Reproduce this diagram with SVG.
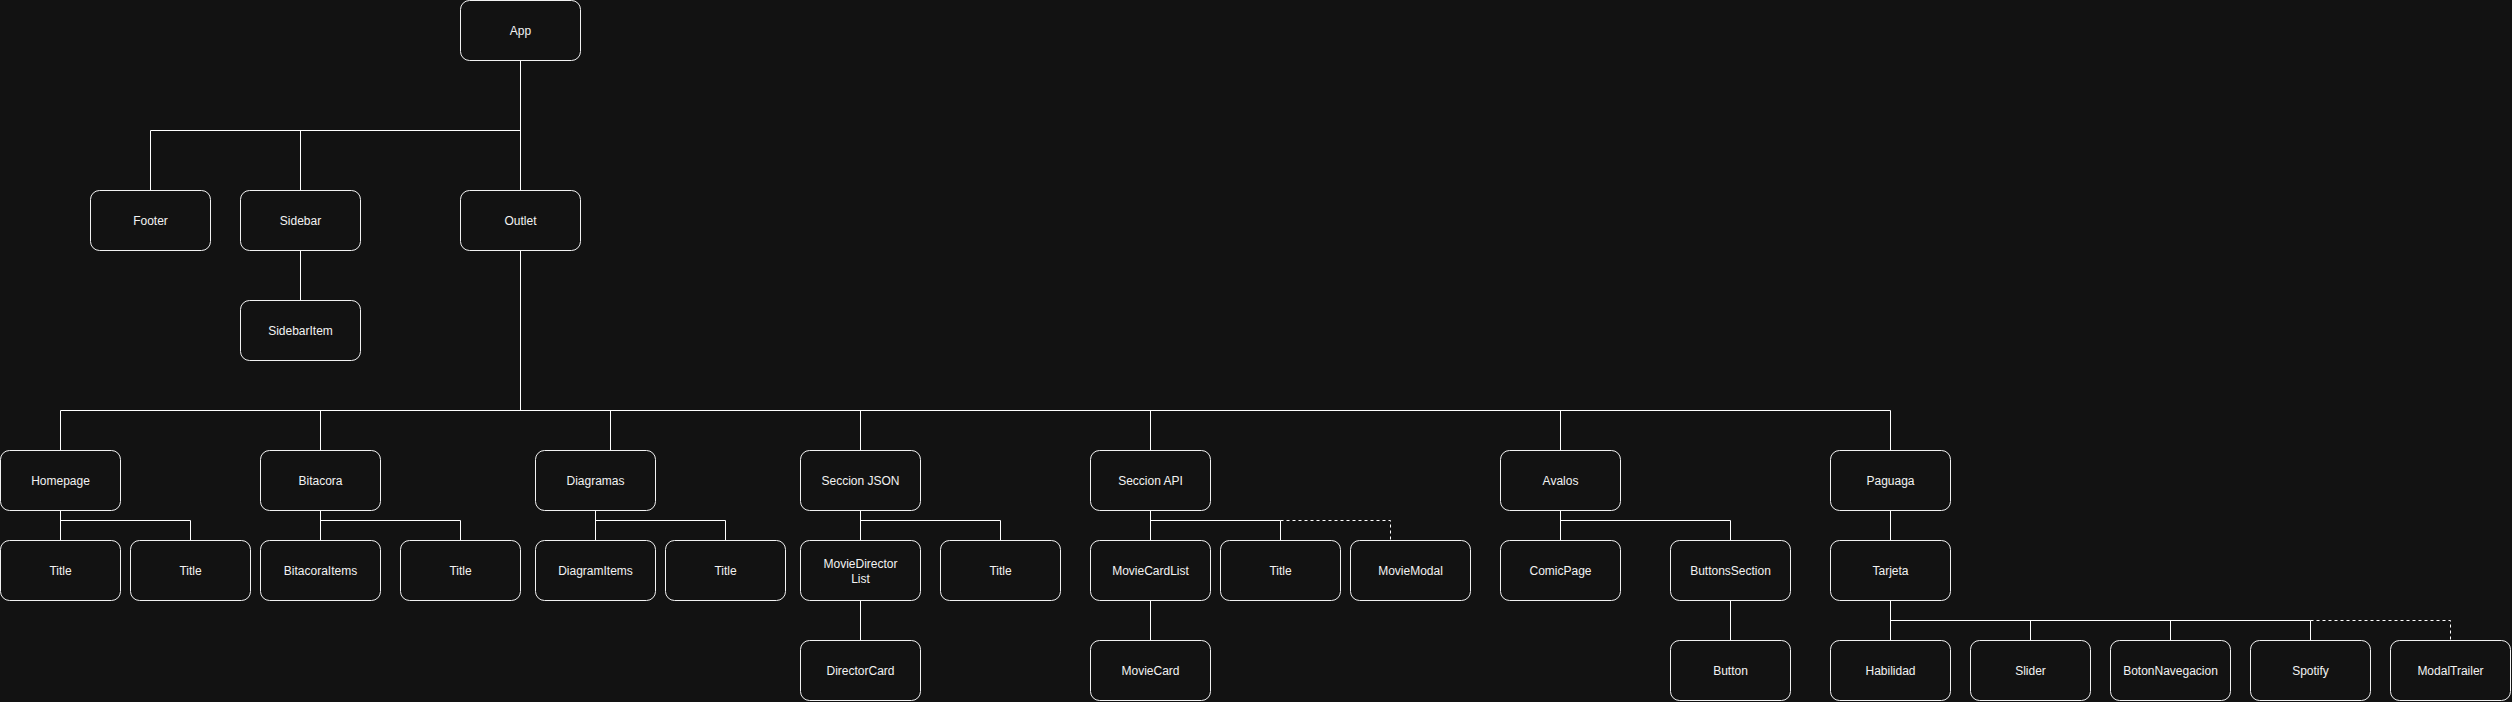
<svg xmlns="http://www.w3.org/2000/svg" width="2512" height="702" viewBox="0 0 2512 702">
<style>
.n rect{fill:#121212;stroke:#f2f2f2;stroke-width:1}
.n text{font-family:"Liberation Sans",Arial,Helvetica,sans-serif;font-size:12px;fill:#f2f2f2;text-anchor:middle}
#connectors path{fill:none;stroke:#ffffff;stroke-width:1}
#connectors path.d{stroke-dasharray:3 3}
</style>
<rect x="0" y="0" width="2512" height="702" fill="#121212"/>
<g id="connectors">
<path d="M520.5 60.5V130.5H150.5V190.5"/>
<path d="M520.5 60.5V130.5H300.5V190.5"/>
<path d="M520.5 60.5V190.5"/>
<path d="M300.5 250.5V300.5"/>
<path d="M520.5 250.5V410.5H60.5V450.5"/>
<path d="M520.5 250.5V410.5H320.5V450.5"/>
<path d="M520.5 250.5V410.5H610.5V450.5"/>
<path d="M520.5 250.5V410.5H860.5V450.5"/>
<path d="M520.5 250.5V410.5H1150.5V450.5"/>
<path d="M520.5 250.5V410.5H1560.5V450.5"/>
<path d="M520.5 250.5V410.5H1890.5V450.5"/>
<path d="M60.5 510.5V540.5"/>
<path d="M60.5 510.5V520.5H190.5V540.5"/>
<path d="M320.5 510.5V540.5"/>
<path d="M320.5 510.5V520.5H460.5V540.5"/>
<path d="M595.5 510.5V540.5"/>
<path d="M595.5 510.5V520.5H725.5V540.5"/>
<path d="M860.5 510.5V540.5"/>
<path d="M860.5 510.5V520.5H1000.5V540.5"/>
<path d="M860.5 600.5V640.5"/>
<path d="M1150.5 510.5V540.5"/>
<path d="M1150.5 510.5V520.5H1280.5V540.5"/>
<path class="d" d="M1280.5 520.5H1390.5V540.5"/>
<path d="M1150.5 600.5V640.5"/>
<path d="M1560.5 510.5V540.5"/>
<path d="M1560.5 510.5V520.5H1730.5V540.5"/>
<path d="M1730.5 600.5V640.5"/>
<path d="M1890.5 510.5V540.5"/>
<path d="M1890.5 600.5V640.5"/>
<path d="M1890.5 600.5V620.5H2030.5V640.5"/>
<path d="M1890.5 600.5V620.5H2170.5V640.5"/>
<path d="M1890.5 600.5V620.5H2310.5V640.5"/>
<path class="d" d="M2310.5 620.5H2450.5V640.5"/>
</g>
<g id="app" class="n"><rect x="460.5" y="0.5" width="120" height="60" rx="9"/><text x="520.5" y="34.5">App</text></g>
<g id="footer" class="n"><rect x="90.5" y="190.5" width="120" height="60" rx="9"/><text x="150.5" y="224.5">Footer</text></g>
<g id="sidebar" class="n"><rect x="240.5" y="190.5" width="120" height="60" rx="9"/><text x="300.5" y="224.5">Sidebar</text></g>
<g id="outlet" class="n"><rect x="460.5" y="190.5" width="120" height="60" rx="9"/><text x="520.5" y="224.5">Outlet</text></g>
<g id="sidebaritem" class="n"><rect x="240.5" y="300.5" width="120" height="60" rx="9"/><text x="300.5" y="334.5">SidebarItem</text></g>
<g id="homepage" class="n"><rect x="0.5" y="450.5" width="120" height="60" rx="9"/><text x="60.5" y="484.5">Homepage</text></g>
<g id="bitacora" class="n"><rect x="260.5" y="450.5" width="120" height="60" rx="9"/><text x="320.5" y="484.5">Bitacora</text></g>
<g id="diagramas" class="n"><rect x="535.5" y="450.5" width="120" height="60" rx="9"/><text x="595.5" y="484.5">Diagramas</text></g>
<g id="seccion-json" class="n"><rect x="800.5" y="450.5" width="120" height="60" rx="9"/><text x="860.5" y="484.5">Seccion JSON</text></g>
<g id="seccion-api" class="n"><rect x="1090.5" y="450.5" width="120" height="60" rx="9"/><text x="1150.5" y="484.5">Seccion API</text></g>
<g id="avalos" class="n"><rect x="1500.5" y="450.5" width="120" height="60" rx="9"/><text x="1560.5" y="484.5">Avalos</text></g>
<g id="paguaga" class="n"><rect x="1830.5" y="450.5" width="120" height="60" rx="9"/><text x="1890.5" y="484.5">Paguaga</text></g>
<g id="title-homepage-1" class="n"><rect x="0.5" y="540.5" width="120" height="60" rx="9"/><text x="60.5" y="574.5">Title</text></g>
<g id="title-homepage-2" class="n"><rect x="130.5" y="540.5" width="120" height="60" rx="9"/><text x="190.5" y="574.5">Title</text></g>
<g id="bitacoraitems" class="n"><rect x="260.5" y="540.5" width="120" height="60" rx="9"/><text x="320.5" y="574.5">BitacoraItems</text></g>
<g id="title-bitacora" class="n"><rect x="400.5" y="540.5" width="120" height="60" rx="9"/><text x="460.5" y="574.5">Title</text></g>
<g id="diagramitems" class="n"><rect x="535.5" y="540.5" width="120" height="60" rx="9"/><text x="595.5" y="574.5">DiagramItems</text></g>
<g id="title-diagramas" class="n"><rect x="665.5" y="540.5" width="120" height="60" rx="9"/><text x="725.5" y="574.5">Title</text></g>
<g id="moviedirectorlist" class="n"><rect x="800.5" y="540.5" width="120" height="60" rx="9"/><text x="860.5" y="567.5">MovieDirector<tspan x="860.5" y="582.5">List</tspan></text></g>
<g id="title-json" class="n"><rect x="940.5" y="540.5" width="120" height="60" rx="9"/><text x="1000.5" y="574.5">Title</text></g>
<g id="moviecardlist" class="n"><rect x="1090.5" y="540.5" width="120" height="60" rx="9"/><text x="1150.5" y="574.5">MovieCardList</text></g>
<g id="title-api" class="n"><rect x="1220.5" y="540.5" width="120" height="60" rx="9"/><text x="1280.5" y="574.5">Title</text></g>
<g id="moviemodal" class="n"><rect x="1350.5" y="540.5" width="120" height="60" rx="9"/><text x="1410.5" y="574.5">MovieModal</text></g>
<g id="comicpage" class="n"><rect x="1500.5" y="540.5" width="120" height="60" rx="9"/><text x="1560.5" y="574.5">ComicPage</text></g>
<g id="buttonssection" class="n"><rect x="1670.5" y="540.5" width="120" height="60" rx="9"/><text x="1730.5" y="574.5">ButtonsSection</text></g>
<g id="tarjeta" class="n"><rect x="1830.5" y="540.5" width="120" height="60" rx="9"/><text x="1890.5" y="574.5">Tarjeta</text></g>
<g id="directorcard" class="n"><rect x="800.5" y="640.5" width="120" height="60" rx="9"/><text x="860.5" y="674.5">DirectorCard</text></g>
<g id="moviecard" class="n"><rect x="1090.5" y="640.5" width="120" height="60" rx="9"/><text x="1150.5" y="674.5">MovieCard</text></g>
<g id="button" class="n"><rect x="1670.5" y="640.5" width="120" height="60" rx="9"/><text x="1730.5" y="674.5">Button</text></g>
<g id="habilidad" class="n"><rect x="1830.5" y="640.5" width="120" height="60" rx="9"/><text x="1890.5" y="674.5">Habilidad</text></g>
<g id="slider" class="n"><rect x="1970.5" y="640.5" width="120" height="60" rx="9"/><text x="2030.5" y="674.5">Slider</text></g>
<g id="botonnavegacion" class="n"><rect x="2110.5" y="640.5" width="120" height="60" rx="9"/><text x="2170.5" y="674.5">BotonNavegacion</text></g>
<g id="spotify" class="n"><rect x="2250.5" y="640.5" width="120" height="60" rx="9"/><text x="2310.5" y="674.5">Spotify</text></g>
<g id="modaltrailer" class="n"><rect x="2390.5" y="640.5" width="120" height="60" rx="9"/><text x="2450.5" y="674.5">ModalTrailer</text></g>
</svg>
